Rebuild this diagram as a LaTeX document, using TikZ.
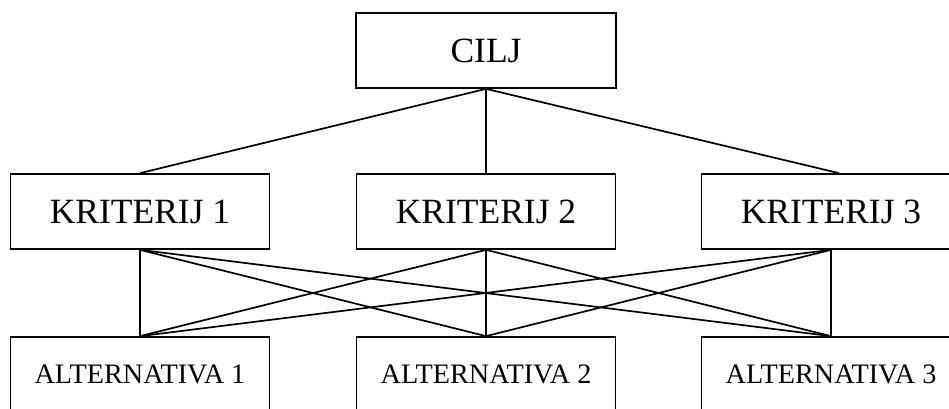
\documentclass[tikz,border=0pt]{standalone}
\usepackage{fontspec}
\setmainfont{Liberation Serif}
\begin{document}
\begin{tikzpicture}[x=1pt,y=-1pt,
  box/.style={draw,line width=1.7pt,minimum width=259pt,minimum height=75pt,inner sep=0pt,anchor=center},
  bigtext/.style={font=\fontsize{35.5}{40}\selectfont},
  smalltext/.style={font=\fontsize{28.2}{32}\selectfont},
  link/.style={line width=1.7pt}]
\clip (0,0) rectangle (949,409);
\node[box,bigtext,minimum width=260pt] (cilj) at (486,50.5) {CILJ};
\node[box,bigtext] (k1) at (140,211.5) {KRITERIJ 1};
\node[box,bigtext] (k2) at (486,211.5) {KRITERIJ 2};
\node[box,bigtext] (k3) at (831,211.5) {KRITERIJ 3};
\node[box,smalltext] (a1) at (140,374.5) {ALTERNATIVA 1};
\node[box,smalltext] (a2) at (486,374.5) {ALTERNATIVA 2};
\node[box,smalltext] (a3) at (831,374.5) {ALTERNATIVA 3};
\draw[link] (cilj.south) -- (k1.north);
\draw[link] (cilj.south) -- (k2.north);
\draw[link] (cilj.south) -- ([xshift=8pt]k3.north);
\foreach \k in {k1,k2,k3}{
  \foreach \a in {a1,a2,a3}{
    \draw[link] (\k.south) -- (\a.north);
  }
}
\end{tikzpicture}
\end{document}
